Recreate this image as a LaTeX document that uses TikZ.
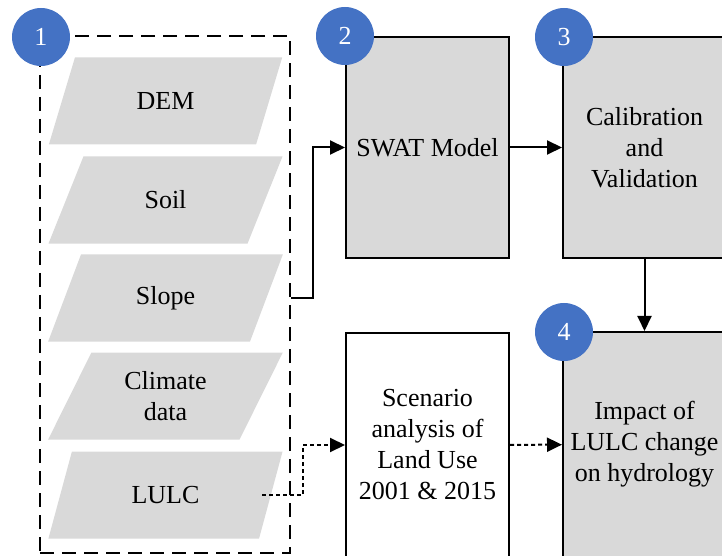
\documentclass[tikz,border=0pt]{standalone}
\usepackage{fontspec}
\setmainfont{Liberation Serif}
\newfontfamily\timesfont{Liberation Serif}
\usetikzlibrary{shapes.geometric,arrows.meta}
\definecolor{boxgray}{HTML}{D9D9D9}
\definecolor{stepblue}{HTML}{4472C4}
\tikzset{
  databox/.style={trapezium, trapezium left angle=64, trapezium right angle=116,
    trapezium stretches=true, fill=boxgray, minimum width=235bp, minimum height=87bp,
    inner sep=0pt, align=center},
  procbox/.style={draw, line width=2bp, fill=boxgray, minimum width=163bp,
    minimum height=221bp, inner sep=0pt, align=center},
  numdot/.style={circle, fill=stepblue, minimum size=58bp, inner sep=0pt, text=white},
  flow/.style={line width=2bp, ->},
}
\begin{document}
\begin{tikzpicture}[x=1bp, y=-1bp, >={Triangle[length=15bp,width=14bp]},
    font=\timesfont\fontsize{26bp}{31bp}\selectfont]
  \clip (0,0) rectangle (722,556);
  % input data group
  \node[draw, dash pattern=on 14bp off 8bp, line width=2bp, minimum width=250bp,
    minimum height=517bp] (inbox) at (165,294.5) {};
  \foreach \nm/\txt/\y in {dem/DEM/101, soil/Soil/200, slope/Slope/298,
      climate/{Climate\\data}/396, lulc/LULC/495}
    {\node[databox] (\nm) at (165.5,\y) {\txt};}
  % model steps
  \node[procbox] (swat) at (427.5,147.5) {SWAT Model};
  \node[procbox] (calib) at (644.5,147.5) {Calibration\\and\\Validation};
  \node[procbox, fill=white, minimum height=224bp] (scen) at (427.5,445)
    {Scenario\\analysis of\\Land Use\\2001 \& 2015};
  \node[procbox, minimum height=225bp] (impact) at (644.5,444.5)
    {Impact of\\LULC change\\on hydrology};
  % step numbers
  \node[numdot] (n1) at ([shift={(2,2)}]inbox.north west) {1};
  \node[numdot] (n2) at (swat.north west) {2};
  \node[numdot] (n3) at ([shift={(2,1)}]calib.north west) {3};
  \node[numdot] (n4) at ([shift={(2,1)}]impact.north west) {4};
  % connectors
  \draw[flow] (inbox.east |- slope) -- ++(22,0) |- (swat.west);
  \draw[flow] (swat) -- (calib);
  \draw[flow] (calib) -- (impact);
  \draw[flow, dash pattern=on 4bp off 3bp] ([xshift=-9bp]lulc.east) -- ++(41,0)
    |- (scen.west);
  \draw[flow, dash pattern=on 4bp off 3bp] (scen) -- (impact);
\end{tikzpicture}
\end{document}
